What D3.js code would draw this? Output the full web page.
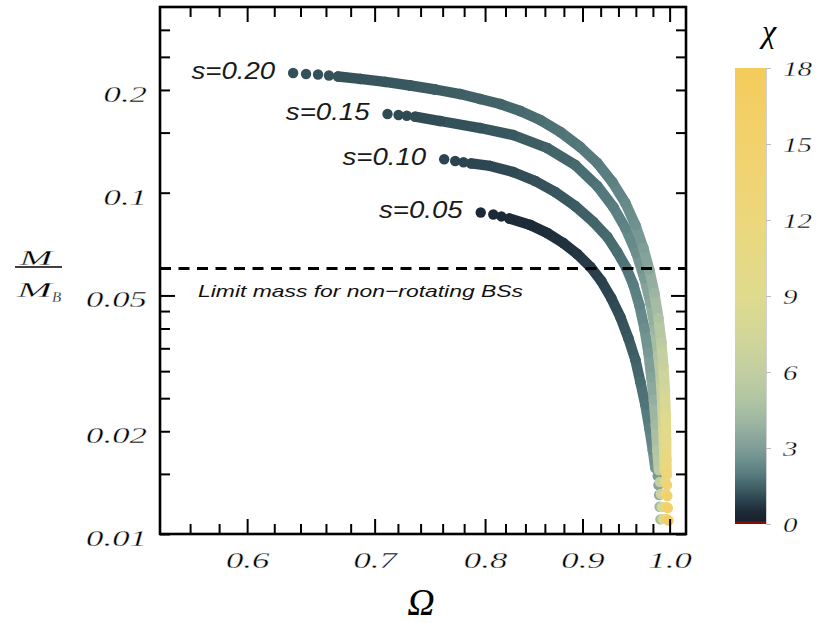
<!DOCTYPE html>
<html><head><meta charset="utf-8">
<script src="https://cdn.jsdelivr.net/npm/d3@7/dist/d3.min.js"></script>
<style>body{margin:0;background:#fff}</style>
</head><body>
<svg id="chart" width="818" height="623"></svg>
<script>
// ---------- data ----------
const seriesLabels = ["s=0.05", "s=0.10", "s=0.15", "s=0.20"];

const omega005 = [0.7958,0.8080,0.8159,0.8238,0.8450,0.8624,0.8794,0.8944,0.9087,0.9207,0.9319,0.9422,0.9513,0.9594,0.9652,0.9711,0.9758,0.9799,0.9829,0.9856,0.9865,0.9873,0.9880,0.9889];
const mass005  = [0.0875,0.0863,0.0852,0.0840,0.0804,0.0762,0.0712,0.0661,0.0606,0.0551,0.0491,0.0432,0.0375,0.0324,0.0279,0.0239,0.0204,0.0176,0.0156,0.01479,0.01391,0.01301,0.01202,0.01104];
const chi005   = [0.45,0.46,0.47,0.48,0.5,0.55,0.62,0.7,0.8,0.9,1.0,1.15,1.3,1.45,1.65,1.85,2.1,2.4,2.7,2.9,3.2,3.6,4.0,4.5];

const omega010 = [0.7614,0.7716,0.7794,0.7867,0.8049,0.8276,0.8500,0.8708,0.8921,0.9119,0.9275,0.9387,0.9490,0.9571,0.9640,0.9699,0.9746,0.9781,0.9811,0.9835,0.9853,0.9871,0.9882,0.9895,0.9906,0.9919];
const mass010  = [0.1253,0.1238,0.1228,0.1218,0.1198,0.1150,0.1082,0.1005,0.0914,0.0821,0.0742,0.0670,0.0602,0.0537,0.0469,0.0401,0.0341,0.0288,0.0247,0.0209,0.0176,0.0154,0.0142,0.0131,0.0120,0.01106];
const chi010   = [0.95,0.95,0.96,0.97,1.0,1.05,1.15,1.25,1.35,1.5,1.6,1.7,1.85,2.0,2.2,2.5,2.8,3.2,3.7,4.3,5.0,5.7,6.3,7.0,7.7,8.5];

const omega015 = [0.7110,0.7205,0.7278,0.7351,0.7577,0.7953,0.8276,0.8624,0.8921,0.9163,0.9342,0.9479,0.9605,0.9699,0.9770,0.9829,0.9865,0.9895,0.9912,0.9924,0.9937,0.9943,0.9949,0.9955,0.9961,0.9967];
const mass015  = [0.1700,0.1689,0.1681,0.1670,0.1622,0.1547,0.1476,0.1352,0.1206,0.1046,0.0908,0.0788,0.0666,0.0562,0.0475,0.0396,0.0334,0.0283,0.0239,0.0202,0.0170,0.0154,0.0142,0.0131,0.0120,0.01106];
const chi015   = [1.05,1.05,1.06,1.07,1.1,1.2,1.3,1.45,1.6,1.8,2.0,2.2,2.5,2.9,3.4,4.0,4.8,5.6,6.5,7.5,8.5,9.3,10.0,10.8,11.5,12.3];

const omega020 = [0.6343,0.6443,0.6537,0.6624,0.6697,0.6879,0.7090,0.7308,0.7532,0.7763,0.7953,0.8148,0.8348,0.8552,0.8762,0.8975,0.9163,0.9331,0.9479,0.9594,0.9687,0.9758,0.9817,0.9865,0.9901,0.9924,0.9943,0.9952,0.9958,0.9960,0.9964,0.9969,0.9973,0.9979,0.9987];
const mass020  = [0.2242,0.2227,0.2219,0.2205,0.2190,0.2154,0.2111,0.2061,0.2006,0.1946,0.1882,0.1819,0.1735,0.1633,0.1506,0.1361,0.1222,0.1075,0.0933,0.0804,0.0689,0.0594,0.0508,0.0429,0.0365,0.0311,0.0264,0.0223,0.0189,0.01647,0.01489,0.01391,0.01292,0.01192,0.01095];
const chi020   = [1.15,1.15,1.16,1.17,1.18,1.2,1.25,1.3,1.35,1.4,1.45,1.5,1.6,1.7,1.8,1.9,1.95,2.1,2.35,2.6,3.0,3.4,4.0,4.8,5.6,6.5,7.6,8.8,10.2,11.6,12.8,13.8,14.8,15.8,17.0];

const limitMass = 0.06;
const limitLabel = "Limit mass for non\u2212rotating BSs";

const xTickValues = [0.6, 0.7, 0.8, 0.9, 1.0];
const xTickLabels = ["0.6", "0.7", "0.8", "0.9", "1.0"];
const xMinorTicks = [0.56,0.58,0.62,0.64,0.66,0.68,0.72,0.74,0.76,0.78,0.82,0.84,0.86,0.88,0.92,0.94,0.96,0.98];
const yTickValues = [0.01, 0.02, 0.05, 0.1, 0.2];
const yTickLabels = ["0.01", "0.02", "0.05", "0.1", "0.2"];
const yMinorTicks = [0.015,0.025,0.03,0.035,0.04,0.045,0.15,0.25,0.3];
const chiTicks = [0, 3, 6, 9, 12, 15, 18];
const chiColorStops = [0, 0.5, 1.0, 1.5, 2.0, 2.5, 3.0, 4.0, 5.0, 6.0, 7.5, 9.0, 12, 15, 18];
const chiColors = ["#161f2b","#1d2a37","#2e4752","#426469","#587d80","#6c8f8d","#7f9e98","#9db5a2","#b2c6a3","#c2cea1","#d3d698","#dfdb8e","#ecd77c","#f2d16c","#f4cc5c"];

// ---------- setup ----------
const svg = d3.select("#chart");
const L = 160, R = 686, T = 7, B = 534;
const x = d3.scaleLog().domain([0.54, 1.02]).range([L, R]);
const y = d3.scaleLog().domain([0.01, 0.35]).range([B, T]);
const color = d3.scaleLinear().domain(chiColorStops).range(chiColors).interpolate(d3.interpolateRgb).clamp(true);

const serif = "'Liberation Serif', 'Times New Roman', serif";
const sans = "'Liberation Sans', Arial, sans-serif";

function stretch(sel, k) {
  sel.each(function () {
    const w = this.getComputedTextLength();
    d3.select(this).attr("textLength", w * k).attr("lengthAdjust", "spacingAndGlyphs");
  });
}
// slightly thin glyph strokes by painting a white outline over the fill
const thin = (sel, w) => sel.attr("stroke", "#fff").attr("stroke-width", w).style("paint-order", "fill");

// ---------- series ----------
const series = [
  {label: seriesLabels[0], omega: omega005, mass: mass005, chi: chi005},
  {label: seriesLabels[1], omega: omega010, mass: mass010, chi: chi010},
  {label: seriesLabels[2], omega: omega015, mass: mass015, chi: chi015},
  {label: seriesLabels[3], omega: omega020, mass: mass020, chi: chi020}
];
const rDot = 5.2;

series.forEach(s => {
  const pts = s.omega.map((o, i) => ({o: o, m: s.mass[i], c: s.chi[i]}));
  const g = svg.append("g");
  const segs = [];
  for (let i = 1; i < pts.length; i++) {
    const a = pts[i - 1], b = pts[i];
    const d = Math.hypot(x(b.o) - x(a.o), y(b.m) - y(a.m));
    if (d > 14) segs.push([a, b]);
  }
  g.selectAll("line.seg").data(segs).join("line")
    .attr("class", "seg")
    .attr("x1", d => x(d[0].o)).attr("y1", d => y(d[0].m))
    .attr("x2", d => x(d[1].o)).attr("y2", d => y(d[1].m))
    .attr("stroke", d => color((d[0].c + d[1].c) / 2))
    .attr("stroke-width", rDot * 2)
    .attr("stroke-linecap", "round");
  g.selectAll("circle").data(pts).join("circle")
    .attr("cx", d => x(d.o)).attr("cy", d => y(d.m))
    .attr("r", rDot).attr("fill", d => color(d.c));

  const lab = svg.append("text")
    .attr("x", x(pts[0].o) - 18).attr("y", y(pts[0].m) - 2.5)
    .attr("dy", "0.35em").attr("text-anchor", "end")
    .style("font-family", sans).style("font-style", "italic").style("font-size", "23px")
    .attr("fill", "#1a1a1a").text(s.label);
  stretch(lab, 1.2);
});

// ---------- limit line ----------
svg.append("line")
  .attr("x1", L).attr("x2", R).attr("y1", y(limitMass)).attr("y2", y(limitMass))
  .attr("stroke", "#000").attr("stroke-width", 3).attr("stroke-dasharray", "11,7.5");
const lt = svg.append("text")
  .attr("x", 198).attr("y", y(limitMass) + 23).attr("dy", "0.35em")
  .style("font-family", sans).style("font-style", "italic").style("font-size", "17px")
  .attr("fill", "#111").text(limitLabel);
lt.attr("textLength", 325).attr("lengthAdjust", "spacingAndGlyphs");

// ---------- axes ----------
function styleAxis(g) {
  g.select(".domain").remove();
  g.selectAll(".tick line").attr("stroke", "#000").attr("stroke-width", 2);
}
const numFont = sel => sel.style("font-family", serif).style("font-style", "italic")
  .style("font-size", "24px").attr("fill", "#000");
// bottom
const gxb = svg.append("g").attr("transform", `translate(0,${B})`)
  .call(d3.axisBottom(x).tickValues(xTickValues).tickSizeInner(-15).tickSizeOuter(0)
    .tickFormat((d, i) => xTickLabels[i]));
styleAxis(gxb);
numFont(gxb.selectAll(".tick text").attr("y", 25.5).attr("dy", "0.35em"));
stretch(gxb.selectAll(".tick text"), 1.45);
thin(gxb.selectAll(".tick text"), 0.35);
const gxbm = svg.append("g").attr("transform", `translate(0,${B})`)
  .call(d3.axisBottom(x).tickValues(xMinorTicks).tickSizeInner(-10).tickSizeOuter(0).tickFormat(""));
styleAxis(gxbm);
// top
const gxt = svg.append("g").attr("transform", `translate(0,${T})`)
  .call(d3.axisTop(x).tickValues(xTickValues).tickSizeInner(-15).tickSizeOuter(0).tickFormat(""));
styleAxis(gxt);
const gxtm = svg.append("g").attr("transform", `translate(0,${T})`)
  .call(d3.axisTop(x).tickValues(xMinorTicks).tickSizeInner(-10).tickSizeOuter(0).tickFormat(""));
styleAxis(gxtm);
// left
const gyl = svg.append("g").attr("transform", `translate(${L},0)`)
  .call(d3.axisLeft(y).tickValues(yTickValues).tickSizeInner(-10).tickSizeOuter(0)
    .tickFormat((d, i) => yTickLabels[i]));
styleAxis(gyl);
gyl.selectAll(".tick line").attr("x2", d => d === 0.05 ? 15 : 10);
numFont(gyl.selectAll(".tick text").attr("x", -13).attr("y", 3).attr("dy", "0.35em"));
stretch(gyl.selectAll(".tick text"), 1.45);
thin(gyl.selectAll(".tick text"), 0.35);
const gylm = svg.append("g").attr("transform", `translate(${L},0)`)
  .call(d3.axisLeft(y).tickValues(yMinorTicks).tickSizeInner(-10).tickSizeOuter(0).tickFormat(""));
styleAxis(gylm);
// right
const gyr = svg.append("g").attr("transform", `translate(${R},0)`)
  .call(d3.axisRight(y).tickValues(yTickValues).tickSizeInner(-10).tickSizeOuter(0).tickFormat(""));
styleAxis(gyr);
gyr.selectAll(".tick line").attr("x2", d => d === 0.05 ? -15 : -10);
const gyrm = svg.append("g").attr("transform", `translate(${R},0)`)
  .call(d3.axisRight(y).tickValues(yMinorTicks).tickSizeInner(-10).tickSizeOuter(0).tickFormat(""));
styleAxis(gyrm);

// frame
svg.append("rect").attr("x", L).attr("y", T).attr("width", R - L).attr("height", B - T)
  .attr("fill", "none").attr("stroke", "#000").attr("stroke-width", 2.6);

// axis titles
svg.append("text").attr("x", 421).attr("y", 602).attr("dy", "0.35em").attr("text-anchor", "middle")
  .style("font-family", serif).style("font-style", "italic").style("font-size", "38px")
  .attr("fill", "#000").text("\u03A9");
const mTop = svg.append("text").attr("x", 36).attr("y", 257).attr("dy", "0.35em").attr("text-anchor", "middle")
  .style("font-family", serif).style("font-style", "italic").style("font-size", "22px").attr("fill", "#000").text("M");
mTop.attr("textLength", 33).attr("lengthAdjust", "spacingAndGlyphs");
thin(mTop, 0.3);
svg.append("line").attr("x1", 15).attr("x2", 62).attr("y1", 267).attr("y2", 267)
  .attr("stroke", "#000").attr("stroke-width", 1.6);
const mb = svg.append("text").attr("x", 17).attr("y", 289).attr("dy", "0.35em")
  .style("font-family", serif).style("font-style", "italic").style("font-size", "22px").attr("fill", "#000");
mb.append("tspan").text("M").attr("textLength", 35).attr("lengthAdjust", "spacingAndGlyphs");
mb.append("tspan").text("B").attr("dy", 5).style("font-size", "15px");
thin(mb, 0.3);

// ---------- colorbar ----------
const cbX = 735, cbW = 31, cbTop = 68, cbBot = 524;
const cy = d3.scaleLinear().domain([0, 18]).range([cbBot, cbTop]);
const grad = svg.append("defs").append("linearGradient").attr("id", "chiGrad")
  .attr("x1", 0).attr("y1", 1).attr("x2", 0).attr("y2", 0);
grad.selectAll("stop").data(chiColorStops).join("stop")
  .attr("offset", d => d / 18).attr("stop-color", d => color(d));
svg.append("rect").attr("x", cbX).attr("y", cbTop).attr("width", cbW).attr("height", cbBot - cbTop)
  .attr("fill", "url(#chiGrad)");
svg.append("rect").attr("x", cbX).attr("y", cbBot - 2.5).attr("width", cbW).attr("height", 2.5)
  .attr("fill", "#8b0a0a");
const gcb = svg.append("g").attr("transform", `translate(${cbX + cbW},0)`)
  .call(d3.axisRight(cy).tickValues(chiTicks).tickSize(5).tickPadding(12));
gcb.select(".domain").attr("stroke", "#cfcfcf").attr("stroke-width", 1);
gcb.selectAll(".tick line").attr("stroke", "#bdbdbd").attr("stroke-width", 1);
gcb.selectAll(".tick text").attr("y", 1)
  .style("font-family", serif).style("font-style", "italic").style("font-size", "20px").attr("fill", "#000");
stretch(gcb.selectAll(".tick text"), 1.45);
thin(gcb.selectAll(".tick text"), 0.3);
svg.append("text").attr("x", 769).attr("y", 31).attr("dy", "0.35em").attr("text-anchor", "middle")
  .style("font-family", serif).style("font-style", "italic").style("font-size", "32px")
  .attr("fill", "#000").text("\u03C7");
</script>
</body></html>
